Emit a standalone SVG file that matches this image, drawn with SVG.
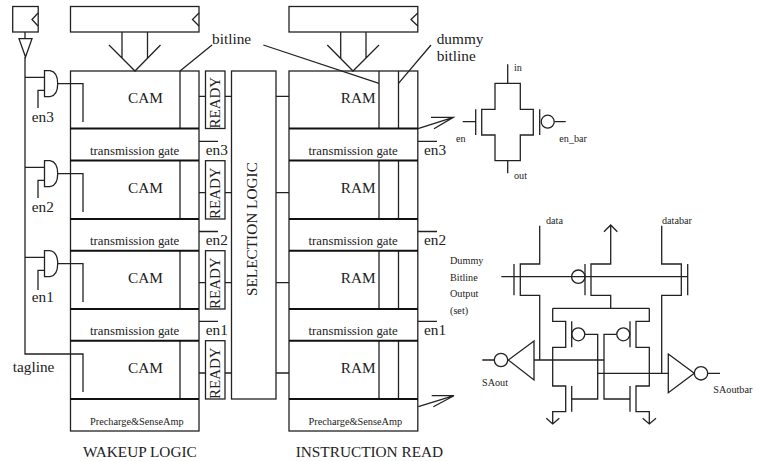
<svg xmlns="http://www.w3.org/2000/svg" width="768" height="461" viewBox="0 0 768 461">
<style>
text{font-family:"Liberation Serif",serif;fill:#222}
.l,.l *{fill:none;stroke:#222;stroke-width:1.3}
.b{fill:none;stroke:#111;stroke-width:2}
.t{font-size:12.8px}
.p{font-size:10.3px}
.m{font-size:15.3px}
.s{font-size:10.2px}
.r{font-size:15px}
</style>
<rect width="768" height="461" fill="#fff"/>
<g id="connectors" class="l">
<path d="M25 32V39M25 57V354H83V392"/>
<path d="M25 77.300H44M25 167.300H44M25 257.300H44"/>
<path d="M58 83.700H83V122M58 173.700H83V212M58 263.700H83V302"/>
<path d="M44 90.300H38V108M44 180.300H38V198M44 270.300H38V290"/>
<path d="M122 32V58M147.500 32V58M109 45L135 71L160.500 45"/>
<path d="M340.700 32V58M366 32V58M327.300 45L353 71L379 45"/>
<path d="M180 71L212 45M263.300 45L379 83.300M431 45L398.500 83.300"/>
<path d="M199 96.300H205.500M199 192.700H205.500M199 282.700H205.500M199 373H205.500"/>
<path d="M225 96.300H231.500M225 192.700H231.500M225 282.700H231.500M225 373H231.500"/>
<path d="M276 96.300H289M276 192.700H289M276 282.700H289M276 373H289"/>
<path d="M199 141.300H218M199 231.500H218M199 321.300H218M418 141.300H437M418 231.500H437M418 321.300H437"/>
<path d="M418 128.700L453.300 117.300M431 117.300H453.300L434 128.700"/>
<path d="M418.300 406.700L454 395.700M431.700 395.700H454L433.300 406.700"/>
</g>
<g id="clock" class="l"><rect x="12.700" y="6.500" width="25.500" height="25.500"/><path d="M38 13L32 19.500L38 26M19 38.700H32L25.500 57Z"/></g>
<g id="reg1" class="l"><rect x="70.500" y="6.500" width="128.500" height="25.500"/><path d="M199 13L192.500 19.500L199 26"/></g>
<g id="reg2" class="l"><rect x="289" y="6.500" width="128.800" height="25.500"/><path d="M417.800 13L411 19.500L417.800 26"/></g>
<g id="and3" class="l"><path d="M44.500 70.700H50Q57.700 72 57.700 83.700Q57.700 95.500 50 96.700H44.500Z"/></g>
<g id="and2" class="l"><path d="M44.500 160.700H50Q57.700 162 57.700 173.700Q57.700 185.500 50 186.700H44.500Z"/></g>
<g id="and1" class="l"><path d="M44.500 250.700H50Q57.700 252 57.700 263.700Q57.700 275.500 50 276.700H44.500Z"/></g>
<g id="cam" class="l">
<rect x="70.500" y="71" width="128.500" height="360"/>
<path d="M180 71V128.500M180 160.500V219M180 250.700V309M180 340.700V399"/>
</g>
<g id="ram" class="l">
<rect x="289" y="71" width="128.800" height="360"/>
<path d="M379 71V128.500M398.500 71V128.500M379 160.500V219M398.500 160.500V219M379 250.700V309M398.500 250.700V309M379 340.700V399M398.500 340.700V399"/>
</g>
<g class="b">
<path d="M70 128.500H199M70 160.500H199M70 219H199M70 250.700H199M70 309H199M70 340.700H199M70 399H199"/>
<path d="M289 128.500H418M289 160.500H418M289 219H418M289 250.700H418M289 309H418M289 340.700H418M289 399H418"/>
</g>
<g id="ready" class="l"><rect x="205.500" y="71" width="19.500" height="57.500"/><rect x="205.500" y="160.700" width="19.500" height="58.300"/><rect x="205.500" y="250.700" width="19.500" height="58.300"/><rect x="205.500" y="340.700" width="19.500" height="58.300"/></g>
<g id="selection" class="l"><rect x="231.500" y="71" width="44.500" height="328"/></g>
<g id="tgate" class="l">
<path d="M507.700 64.300V83.300M507.700 160.700V173.300"/>
<path d="M495 83.300H520.300V109.300H533.300V135H520.300V160.700H495V135H481.700V109.300H495Z"/>
<path d="M462.700 121.700H475.700M475.700 109.300V135M539.700 109.300V135M554.300 121.700H565.700"/>
<circle cx="547.700" cy="121.700" r="6.500"/>
</g>
<g id="senseamp" class="l">
<path d="M539.700 225.700V264H520.300V295.300H539.700V360"/>
<path d="M514 264V295.300M501.300 276.700H687.700M687.700 264V295.300"/>
<path d="M585 264V295.300"/><circle cx="578.300" cy="276.700" r="6.700"/>
<path d="M604 231.700L610.700 225L617.300 231.700M610.700 225V264H591V295.300H610.700V308.300"/>
<path d="M552.700 308.300H649.300"/>
<path d="M552.700 308.300V321.300H565.700V347.300H552.700V386H565.700V411.700H552.700V424M546.300 418.300L552.700 424L559.300 418.300"/>
<path d="M649.300 308.300V321.300H636V347.300H649.300V386H636V411.700H649.300V424M642.700 418.300L649.300 424L656 418.300"/>
<path d="M571.700 321.300V347.300M571.700 386V411.700M630 321.300V347.300M630 386V411.700"/>
<circle cx="578.300" cy="334.300" r="6.500"/><circle cx="623.300" cy="334.300" r="6.500"/>
<path d="M585 334.300H597.700V399H571.700M616.700 334.300H604V399H630"/>
<path d="M534 360H604M597.700 373.300H668.300"/>
<path d="M661.700 225.700V264H681.300V295.300H661.700V373.300"/>
<path d="M534 341V380L508.300 360ZM482.300 360H494.300"/><circle cx="501" cy="360" r="6.700"/>
<path d="M668.300 354V392.700L694.300 373.300ZM707.700 373.300H720"/><circle cx="701" cy="373.300" r="6.700"/>
</g>
<g id="labels">
<text class="m" x="128" y="103">CAM</text><text class="m" x="128" y="193">CAM</text><text class="m" x="128" y="283">CAM</text><text class="m" x="128" y="373">CAM</text>
<text class="m" x="340.700" y="103">RAM</text><text class="m" x="340.700" y="193">RAM</text><text class="m" x="340.700" y="283">RAM</text><text class="m" x="340.700" y="373">RAM</text>
<text class="t" x="90" y="155">transmission gate</text><text class="t" x="90" y="245">transmission gate</text><text class="t" x="90" y="335">transmission gate</text>
<text class="t" x="308.500" y="155">transmission gate</text><text class="t" x="308.500" y="245">transmission gate</text><text class="t" x="308.500" y="335">transmission gate</text>
<text class="p" x="90" y="425">Precharge&amp;SenseAmp</text><text class="p" x="308.500" y="425">Precharge&amp;SenseAmp</text>
<text class="m" x="212" y="44">bitline</text><text class="m" x="436.700" y="44">dummy</text><text class="m" x="436.700" y="61">bitline</text>
<text class="m" x="31.700" y="122">en3</text><text class="m" x="31.700" y="212">en2</text><text class="m" x="31.700" y="302">en1</text><text class="m" x="12.700" y="372">tagline</text>
<text class="m" x="205.700" y="155">en3</text><text class="m" x="205.700" y="245">en2</text><text class="m" x="205.700" y="335">en1</text>
<text class="m" x="424" y="155">en3</text><text class="m" x="424" y="245">en2</text><text class="m" x="424" y="335">en1</text>
<text class="m" x="83" y="456.700">WAKEUP LOGIC</text><text class="m" x="295.700" y="456.700">INSTRUCTION READ</text>
<text class="r" transform="translate(219.500 128.500) rotate(-90)">READY</text><text class="r" transform="translate(219.500 219) rotate(-90)">READY</text><text class="r" transform="translate(219.500 309) rotate(-90)">READY</text><text class="r" transform="translate(219.500 399) rotate(-90)">READY</text>
<text class="m" transform="translate(256.500 296) rotate(-90)">SELECTION LOGIC</text>
<text class="s" x="514" y="70.700">in</text><text class="s" x="456" y="141.700">en</text><text class="s" x="559.300" y="141.700">en_bar</text><text class="s" x="514" y="179.300">out</text>
<text class="s" x="546" y="224">data</text><text class="s" x="662" y="224">databar</text>
<text class="s" x="450" y="264">Dummy</text><text class="s" x="450" y="281">Bitline</text><text class="s" x="450" y="297">Output</text><text class="s" x="450" y="314">(set)</text>
<text class="s" x="482" y="386">SAout</text><text class="s" x="713.300" y="392.700">SAoutbar</text>
</g>
</svg>
